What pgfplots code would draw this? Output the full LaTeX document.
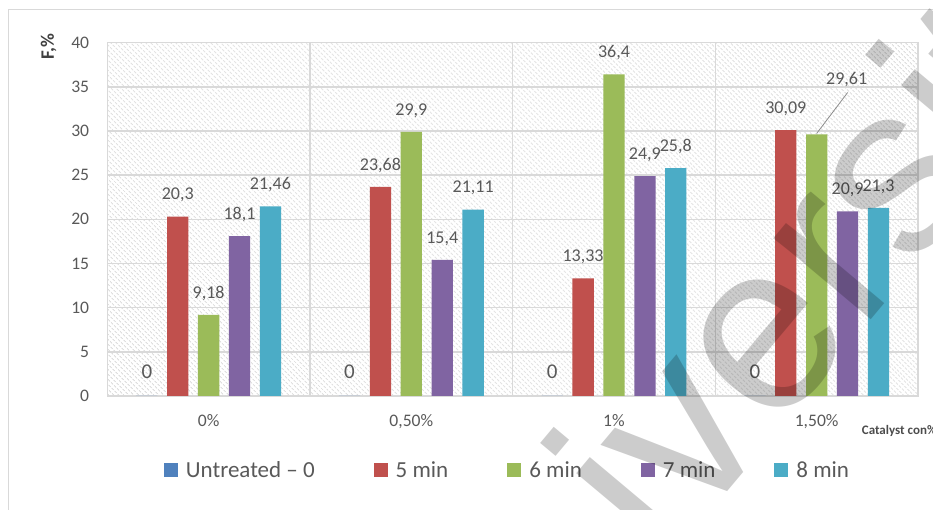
\documentclass[border=0pt]{standalone}
\usepackage{pgfplots}
\pgfplotsset{compat=1.18}
\usepackage{fontspec}
\setmainfont{Carlito}
\newfontfamily\markfont{Liberation Sans}
\usetikzlibrary{patterns.meta}

\definecolor{cUnt}{HTML}{4F81BD}
\definecolor{cFive}{HTML}{C0504D}
\definecolor{cSix}{HTML}{9BBB59}
\definecolor{cSeven}{HTML}{8064A2}
\definecolor{cEight}{HTML}{4BACC6}
\definecolor{textgray}{HTML}{595959}
\definecolor{gridgray}{HTML}{D9D9D9}
\definecolor{hatch}{HTML}{CCCCCC}

\begin{document}
\begin{tikzpicture}[x=1bp,y=1bp]
\path[use as bounding box] (0,0) rectangle (933,510);
\clip (0,0) rectangle (933,510);
% chart frame
\draw[color=gridgray, line width=1bp] (8.5,-20) rectangle (960,500.5);

\begin{axis}[
  at={(107.3bp,114bp)}, anchor=south west,
  scale only axis, width=810.7bp, height=353.3bp,
  xmin=-0.5, xmax=3.5, ymin=0, ymax=40,
  ytick={0,5,...,40},
  xtick={0,1,2,3},
  xticklabels={0\%,{0,50\%},1\%,{1,50\%}},
  minor xtick={0.5,1.5,2.5},
  ymajorgrids, xminorgrids,
  major grid style={draw=gridgray, line width=1.5bp},
  minor grid style={draw=gridgray, line width=1.5bp},
  major tick length=0pt, minor tick length=0pt,
  axis line style={draw=gridgray, line width=1.5bp},
  axis background/.style={fill=white,
    postaction={pattern={Lines[angle=-45,distance=3.6bp,line width=0.9bp]}, pattern color=hatch}},
  ybar=9.6bp, bar width=21.3bp,
  legend image code/.code={\fill[#1] (0bp,-7bp) rectangle (14bp,7bp);},
  tick label style={font=\fontsize{17.6bp}{20bp}\selectfont, text=textgray},
  /pgf/number format/assume math mode=true,
  yticklabel style={inner sep=0pt, xshift=-18bp},
  xticklabel style={inner sep=0pt, anchor=base, yshift=-30.7bp},
  nodes near coords,
  every node near coord/.append style={anchor=center, inner sep=0pt, yshift=21.5bp,
    font=\fontsize{18bp}{20bp}\selectfont, text=textgray},
  /pgf/number format/.cd, use comma, fixed, precision=2,
  /pgfplots/.cd,
  legend columns=5,
  legend cell align=left,
  legend style={font=\fontsize{23bp}{28bp}\selectfont, text=textgray,
    draw=none, fill=none, inner sep=0pt, outer sep=0pt,
    at={(0.0699,-0.2095)}, anchor=west,
    /tikz/every odd column/.append style={column sep=6bp},
    /tikz/every even column/.append style={column sep=57bp}},
]
\addplot[fill=cUnt, draw=none,
  every node near coord/.append style={font=\fontsize{21bp}{24bp}\selectfont, yshift=2.5bp}]
  coordinates {(0,0) (1,0) (2,0) (3,0)};
\addlegendentry{Untreated – 0}

\addplot[fill=cFive, draw=none]
  coordinates {(0,20.3) (1,23.68) (2,13.33) (3,30.09)};
\addlegendentry{5 min}

\addplot[fill=cSix, draw=none,
  visualization depends on={value \thisrow{dx}\as\ldx},
  visualization depends on={value \thisrow{dy}\as\ldy},
  every node near coord/.append style={xshift=\ldx bp, yshift=\ldy bp}]
  table[x=x, y=y] {
  x y     dx dy
  0 9.18  0  0
  1 29.9  0  0
  2 36.4  0  0
  3 29.61 30 33
};
\addlegendentry{6 min}

\addplot[fill=cSeven, draw=none]
  coordinates {(0,18.1) (1,15.4) (2,24.9) (3,20.9)};
\addlegendentry{7 min}

\addplot[fill=cEight, draw=none]
  coordinates {(0,21.46) (1,21.11) (2,25.8) (3,21.3)};
\addlegendentry{8 min}

% leader line for the moved 29,61 label
\draw[black!45, line width=0.8bp] (axis cs:3,29.61) ++(0bp,1bp) -- ++(31bp,41bp);
\end{axis}

% axis titles
\node[rotate=90, inner sep=0pt, text=black!75, font=\fontsize{19bp}{22bp}\selectfont\bfseries]
  at (48.5,463) {F,\%};
\node[anchor=west, inner sep=0pt, text=black!70, font=\fontsize{13bp}{15bp}\selectfont\bfseries]
  at (861.7,79) {Catalyst con\%};

% watermark
\node[anchor=base west, inner sep=0pt, rotate=50, text=black, text opacity=0.2,
  font=\markfont\fontsize{240bp}{240bp}\selectfont] at (466,-293) {University};
\end{tikzpicture}
\end{document}
